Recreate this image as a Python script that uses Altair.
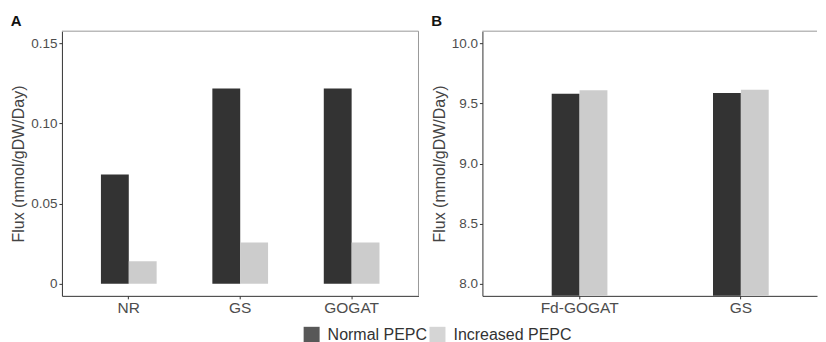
import altair as alt
import pandas as pd

# Panel A
a_categories = ["NR", "GS", "GOGAT"]
a_normal = [0.0681, 0.1218, 0.1218]
a_increased = [0.0141, 0.0257, 0.0257]
# Panel B
b_categories = ["Fd-GOGAT", "GS"]
b_normal = [9.580, 9.586]
b_increased = [9.608, 9.613]

groups = ["Normal PEPC", "Increased PEPC"]
colors = ["#333333", "#cccccc"]
FONT = "Liberation Sans"
BORDER = "#999999"


def frame(cats, normal, increased):
    rows = []
    for c, n, i in zip(cats, normal, increased):
        rows.append({"reaction": c, "condition": groups[0], "flux": n})
        rows.append({"reaction": c, "condition": groups[1], "flux": i})
    return pd.DataFrame(rows)


color = alt.Color(
    "condition:N",
    sort=groups,
    scale=alt.Scale(domain=groups, range=colors),
    legend=alt.Legend(
        title=None,
        orient="none",
        direction="horizontal",
        legendX=242,
        legendY=296,
        symbolType="square",
        symbolSize=256,
        symbolStrokeWidth=0,
        symbolOpacity=0.82,
        labelFontSize=16,
        labelFont=FONT,
        labelColor="#333333",
        labelOffset=8,
        columnPadding=2,
    ),
)

ytitle = "Flux (mmol/gDW/Day)"
HEIGHT = 265
one = pd.DataFrame({"k": [0]})


def panel(df, cats, xscale, width, ydomain, yvalues, label_expr, letter, right_border):
    bars = (
        alt.Chart(df)
        .mark_bar(clip=True)
        .encode(
            x=alt.X("reaction:N", sort=cats, scale=xscale,
                    axis=alt.Axis(title=None, labelAngle=0)),
            xOffset=alt.XOffset("condition:N", sort=groups,
                                scale=alt.Scale(paddingInner=0, paddingOuter=0)),
            y=alt.Y(
                "flux:Q",
                scale=alt.Scale(domain=ydomain, nice=False, zero=False),
                axis=alt.Axis(title=ytitle, values=yvalues, labelExpr=label_expr),
            ),
            color=color,
        )
    )
    top = alt.Chart(one).mark_rule(color=BORDER, strokeWidth=1).encode(
        x=alt.value(0), x2=alt.value(width), y=alt.value(0)
    )
    layers = [bars, top]
    if right_border:
        layers.append(
            alt.Chart(one).mark_rule(color=BORDER, strokeWidth=1).encode(
                x=alt.value(width), y=alt.value(0), y2=alt.value(HEIGHT)
            )
        )
    return alt.layer(*layers).properties(
        width=width,
        height=HEIGHT,
        title=alt.TitleParams(
            letter, anchor="start", frame="bounds", fontSize=15,
            fontWeight="bold", font=FONT, color="#111111", offset=2,
        ),
    )


chart_a = panel(
    frame(a_categories, a_normal, a_increased), a_categories,
    alt.Scale(paddingInner=0.5, paddingOuter=0.35), 357,
    [-0.0075, 0.1575], [0, 0.05, 0.10, 0.15],
    "datum.value == 0 ? '0' : format(datum.value, '.2f')", "A", True,
)
chart_b = panel(
    frame(b_categories, b_normal, b_increased), b_categories,
    alt.Scale(paddingInner=0.6537, paddingOuter=0.364, align=0.59), 335,
    [7.9, 10.1], [8.0, 8.5, 9.0, 9.5, 10.0],
    "format(datum.value, '.1f')", "B", False,
)

chart = (
    alt.hconcat(chart_a, chart_b, spacing=11)
    .properties(padding={"left": 2, "top": 5, "right": 0, "bottom": 0})
    .configure_view(stroke=None)
    .configure_axis(
        grid=False,
        domainColor="#333333",
        domainWidth=1,
        tickColor="#333333",
        tickSize=3,
        labelFont=FONT,
        titleFont=FONT,
        labelColor="#4d4d4d",
        titleColor="#444444",
        titleFontSize=16,
        titleFontWeight="normal",
    )
    .configure_axisX(labelFontSize=15.5, labelPadding=2)
    .configure_axisY(labelFontSize=13.5, labelPadding=2, titlePadding=4)
)

chart.save("out.html", embed_options={"renderer": "svg", "actions": False})
